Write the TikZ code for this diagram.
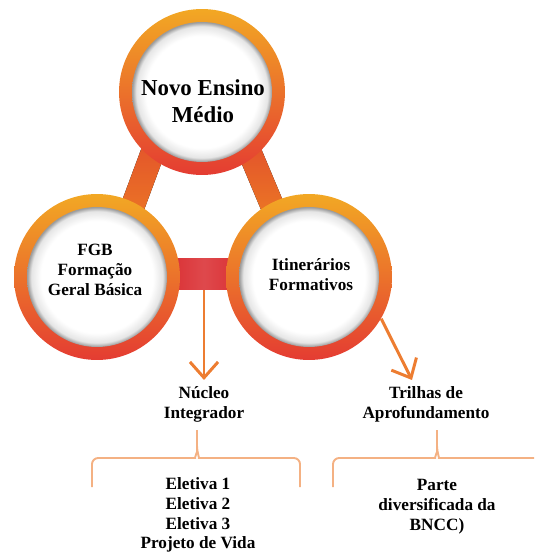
\documentclass[tikz,border=0pt]{standalone}
\usepackage{fontspec}
\setmainfont{LiberationSerif}[Extension=.ttf,UprightFont=*-Regular,BoldFont=*-Bold]
\usetikzlibrary{positioning}
\usetikzlibrary{arrows.meta}
\definecolor{ringtop}{RGB}{242,168,36}
\definecolor{ringbot}{RGB}{228,60,50}
\definecolor{barred}{RGB}{218,48,52}
\definecolor{bartop}{RGB}{226,78,44}
\definecolor{barbot}{RGB}{236,122,36}
\definecolor{arrorange}{RGB}{237,125,49}
\definecolor{braceorange}{RGB}{244,177,131}
\pgfdeclareradialshading{holeshade}{\pgfpoint{0bp}{0bp}}{color(0bp)=(white); color(20bp)=(white); color(23.5bp)=(black!10); color(25bp)=(black!40); color(50bp)=(black!40)}

\begin{document}
\begin{tikzpicture}[x=0.02cm,y=-0.02cm,
  ring/.style={circle,inner sep=0pt,minimum size=3.32cm,top color=ringtop,bottom color=ringbot},
  hole/.style={circle,inner sep=0pt,minimum size=2.8cm,shading=holeshade},
  botbar/.style={rectangle,inner sep=0pt,minimum width=1.4cm,minimum height=0.64cm,left color=barred,right color=barred,middle color=barred!88!white},
  titletext/.style={align=center,font=\bfseries\fontsize{13}{15.3}\selectfont},
  itemtext/.style={align=center,font=\bfseries\fontsize{9.8}{11.3}\selectfont},
  arr/.style={arrorange,line width=1.7pt,-{Straight Barb[length=9pt,width=16pt]}},
  brace/.style={braceorange,line width=1.1pt,rounded corners=3.5pt}]
\useasboundingbox (0,0) rectangle (534,554);
\clip (0,0) rectangle (534,554);

\fill[top color=bartop,bottom color=barbot] (172.2,134.2) -- (149.8,125.8) -- (113.8,222.8) -- (136.2,231.2) -- cycle;
\fill[top color=bartop,bottom color=barbot] (233,143) -- (255,134) -- (289,215) -- (267,224) -- cycle;
\node[botbar] (link) at (204,274) {};

\node[ring] (nem) at (202,92) {};
\node[hole] (nemhole) at (nem) {};
\node[ring] (fgb) at (97,277) {};
\node[hole] (fgbhole) at (fgb) {};
\node[ring] (itin) at (309,277) {};
\node[hole] (itinhole) at (itin) {};

\node[titletext] (nemtxt) at (203,101) {Novo Ensino\\Médio};
\node[itemtext] (fgbtxt) at (95,270) {FGB\\Formação\\Geral Básica};
\node[itemtext] (itintxt) at (311,275) {Itinerários\\Formativos};

\node[itemtext] (nucleo) at (204,404) {Núcleo\\Integrador};
\node[itemtext] (trilhas) at (426,404) {Trilhas de\\Aprofundamento};
\coordinate (trtip) at (412,380);

\draw[arr] (link.south) -- (nucleo.north);
\draw[arr] (itin.-30) -- (trtip);

\draw[brace] (92,487) -- (92,458) -- (189,458) to[out=0,in=-90] (197,446) -- (197,430);
\draw[brace] (197,446) to[out=-90,in=180] (205,458) -- (300,458) -- (300,487);
\draw[brace] (333,487) -- (333,458) -- (429,458) to[out=0,in=-90] (437,446) -- (437,430);
\draw[brace] (437,446) to[out=-90,in=180] (445,458) -- (541,458) -- (541,487);

\node[itemtext] (eletivas) at (198,515) {Eletiva 1\\Eletiva 2\\Eletiva 3\\Projeto de Vida};
\node[itemtext] (parte) at (437,507) {Parte\\diversificada da\\BNCC)};

\end{tikzpicture}
\end{document}
